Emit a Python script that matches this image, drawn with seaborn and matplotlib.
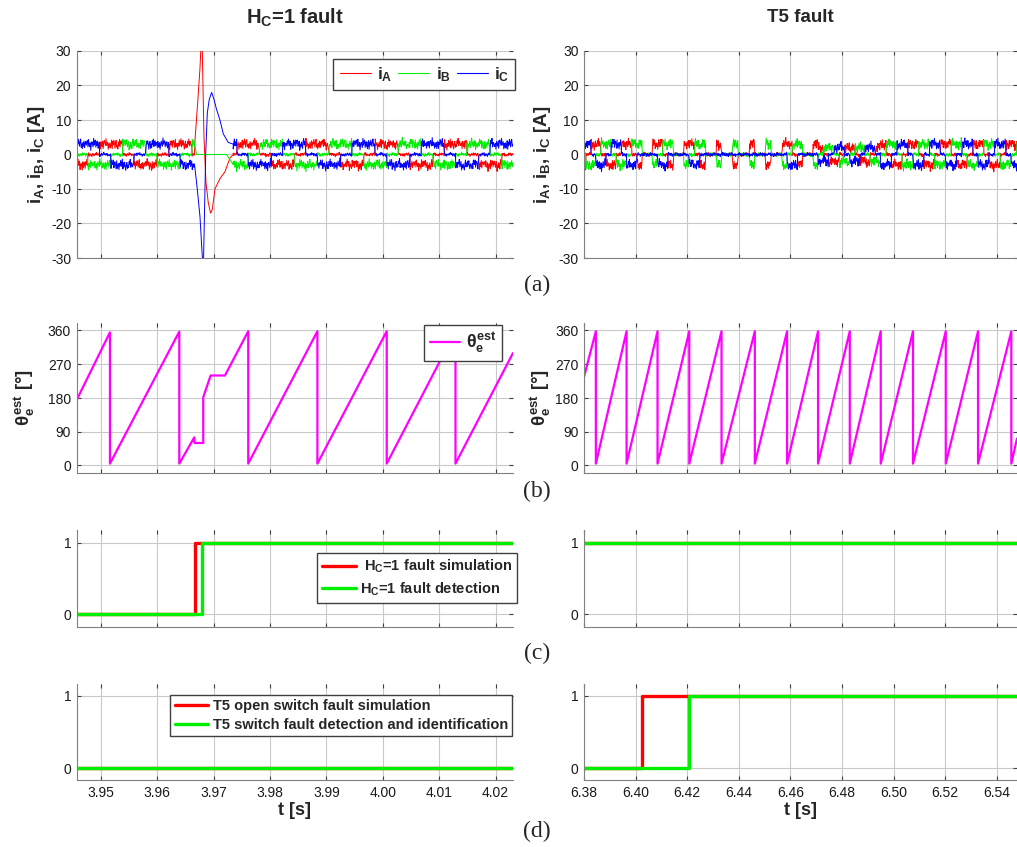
import numpy as np
import pandas as pd
import matplotlib
matplotlib.use("Agg")
import matplotlib.pyplot as plt
from matplotlib.lines import Line2D
import seaborn as sns

# ---------------- time windows and ticks ----------------
t_left_range = (3.9457, 4.0231)
t_right_range = (6.38, 6.5478)
left_xticks = [3.95, 3.96, 3.97, 3.98, 3.99, 4.00, 4.01, 4.02]
right_xticks = [6.38, 6.40, 6.42, 6.44, 6.46, 6.48, 6.50, 6.52, 6.54]
current_yticks = [-30, -20, -10, 0, 10, 20, 30]
theta_yticks = [0, 90, 180, 270, 360]
flag_yticks = [0, 1]

# ---------------- fault events ----------------
hc_fault_time = 3.9666
hc_detect_time = 3.9679
t5_fault_time = 6.4026
t5_detect_time = 6.4207

# ---------------- estimated electrical angle ----------------
theta_left_t = [3.9457, 3.9516, 3.9516, 3.9639, 3.9639, 3.96656, 3.96660, 3.96815,
                3.96815, 3.96946, 3.9720, 3.97613, 3.97613, 3.9884, 3.9884, 4.0007,
                4.0007, 4.0129, 4.0129, 4.0231]
theta_left_deg = [175, 355, 5, 357, 5, 75, 60, 60,
                  182, 240, 240, 358, 5, 358, 5, 358,
                  5, 358, 5, 300]

theta_right_wraps = [6.3846, 6.3965, 6.4085, 6.4208, 6.4333, 6.4462, 6.4587,
                     6.4707, 6.4830, 6.4950, 6.5075, 6.5202, 6.5327, 6.5456]
theta_right_start_deg = 236
theta_right_end_deg = 72
theta_low_deg = 5
theta_high_deg = 358

# ---------------- phase currents (six-step commutation) ----------------
phase_names = ["iA", "iB", "iC"]
sector_pattern = {1: (1, -1, 0), 2: (1, 0, -1), 3: (0, 1, -1),
                  4: (-1, 1, 0), 5: (-1, 0, 1), 6: (0, -1, 1), 0: (0, 0, 0)}
current_amp = 3.0

# H_C = 1 case: commutation instants and active sector before / after the fault
left_pre_starts = [3.9457, 3.9477, 3.94975, 3.9518, 3.95385, 3.9559, 3.95795,
                   3.9600, 3.96205, 3.9641, 3.96615]
left_pre_sectors = [5, 6, 1, 2, 3, 4, 5, 6, 1, 2, 3]
left_post_starts = [3.97347, 3.9741, 3.9761, 3.97815, 3.9802, 3.98225, 3.9843,
                    3.98635, 3.9884, 3.99045, 3.9925, 3.99455, 3.9966, 3.99865,
                    4.0007, 4.00275, 4.0048, 4.00685, 4.0089, 4.01095, 4.0129,
                    4.01495, 4.017, 4.01905, 4.0211]
left_post_sectors = [6, 1, 2, 3, 4, 5, 6, 1, 2, 3, 4, 5, 6, 1, 2, 3, 4, 5, 6, 1,
                     2, 3, 4, 5, 6]

# transient right after the Hall fault
ia_fault_t = [3.9666, 3.96668, 3.96716, 3.96757, 3.96780, 3.96798, 3.96828, 3.96863,
              3.96904, 3.96946, 3.96975, 3.97023, 3.97111, 3.97200, 3.97289, 3.97347]
ia_fault_val = [0, 4, 15, 25, 33, 30, 5, -8, -14, -17, -16, -10, -7, -5, -1, 0]
ib_fault_t = [3.9666, 3.96698, 3.97230, 3.97347]
ib_fault_val = [3, 0, 0, -3]
ic_fault_t = [3.9666, 3.96668, 3.96709, 3.96757, 3.96792, 3.96816, 3.96834, 3.96858,
              3.96887, 3.96922, 3.96964, 3.97005, 3.97052, 3.97111, 3.97170, 3.97258,
              3.97347]
ic_fault_val = [-3, -4, -10, -18, -28, -34, -20, 0, 12, 16, 18, 16, 13, 10, 6, 3.5, 3]

# T5 case: conduction behaviour for each electrical period (first one is partial)
right_period_modes = ["normal", "normal", "open_c", "open_c", "open_c", "ab_only",
                      "ab_only", "open_c", "weak", "weak", "normal", "normal",
                      "normal", "normal", "normal"]

# measured current ripple (A)
ripple_fast = [0.6, -0.9, 1.2, 0.1, -0.4, 0.9, -1.3, 0.3, 0.8, -0.2, -1.0, 1.4, -0.6,
               0.2, 0.7, -1.1, 0.5, -0.3, 1.0, -0.8, 0.0, 1.1, -1.4, 0.4, -0.5, 0.9,
               -0.1, -1.2, 0.6, 1.3, -0.7, 0.2, -0.9, 0.8, -0.3, 1.2, -1.0, 0.3, 0.5,
               -0.6, 0.1]
ripple_slow = [0.3, 0.5, 0.2, -0.1, -0.4, -0.5, -0.2, 0.1, 0.4, 0.6, 0.3, 0.0, -0.3,
               -0.6, -0.4, -0.1, 0.2, 0.5, 0.4, 0.1, -0.2, -0.5, -0.3, 0.0, 0.3, 0.6,
               0.2, -0.1, -0.4, -0.6, -0.3, 0.1, 0.4, 0.3, 0.0, -0.2, -0.5, -0.2, 0.2,
               0.5, 0.6, 0.2, -0.2, -0.4, -0.3, 0.0, 0.3, 0.5, 0.1, -0.3, -0.5, -0.1, 0.2]


def ripple(k, p):
    return (ripple_fast[(k + 11 * p) % len(ripple_fast)]
            + ripple_slow[(k // 2 + 19 * p) % len(ripple_slow)])


def six_step_currents(t_grid, starts, sectors, amps, k0=0):
    idx = np.searchsorted(starts, t_grid, side="right") - 1
    idx = np.clip(idx, 0, len(starts) - 1)
    out = np.zeros((3, len(t_grid)))
    for j in range(len(t_grid)):
        lv = sector_pattern[sectors[idx[j]]]
        for p in range(3):
            n = ripple(j + k0, p)
            out[p, j] = amps[idx[j]] * lv[p] + n if lv[p] != 0 else 0.35 * n
    return out


# ---- H_C fault window ----
dt_left = 1.0e-4
t_pre = np.arange(t_left_range[0], hc_fault_time, dt_left)
t_post = np.arange(left_post_starts[0], t_left_range[1] + 1e-9, dt_left)
i_pre = six_step_currents(t_pre, left_pre_starts, left_pre_sectors,
                          [current_amp] * len(left_pre_starts))
i_post = six_step_currents(t_post, left_post_starts, left_post_sectors,
                           [current_amp] * len(left_post_starts), k0=len(t_pre))
fault_t = [ia_fault_t, ib_fault_t, ic_fault_t]
fault_v = [ia_fault_val, ib_fault_val, ic_fault_val]
rows = []
for p, name in enumerate(phase_names):
    tt = np.concatenate([t_pre, fault_t[p], t_post])
    vv = np.concatenate([i_pre[p], fault_v[p], i_post[p]])
    rows.append(pd.DataFrame({"t": tt, "i": vv, "phase": name}))
cur_left = pd.concat(rows, ignore_index=True)

# ---- T5 fault window ----
wraps = [2 * theta_right_wraps[0] - theta_right_wraps[1]] + theta_right_wraps
seg_starts, seg_sectors, seg_amps = [], [], []
for i, w in enumerate(wraps):
    per = (wraps[i + 1] - w) if i + 1 < len(wraps) else (w - wraps[i - 1])
    mode = right_period_modes[i]
    for k, sec in enumerate([2, 3, 4, 5, 6, 1]):
        s, amp = sec, current_amp
        if mode == "open_c" and sec in (5, 6):
            s = 0
        elif mode == "ab_only" and sec not in (1, 4):
            s = 0
        elif mode == "weak":
            amp = 2.0
        seg_starts.append(w + k * per / 6)
        seg_sectors.append(s)
        seg_amps.append(amp)
dt_right = 2.0e-4
t_r = np.arange(t_right_range[0], t_right_range[1] + 1e-9, dt_right)
i_r = six_step_currents(t_r, seg_starts, seg_sectors, seg_amps, k0=7)
cur_right = pd.concat([pd.DataFrame({"t": t_r, "i": i_r[p], "phase": n})
                       for p, n in enumerate(phase_names)], ignore_index=True)

# angle vertices on the T5 window
th_r_t = [t_right_range[0]]
th_r_v = [theta_right_start_deg]
for w in theta_right_wraps:
    th_r_t += [w, w]
    th_r_v += [theta_high_deg, theta_low_deg]
th_r_t.append(t_right_range[1])
th_r_v.append(theta_right_end_deg)

# fault flags
xl0, xl1 = t_left_range
xr0, xr1 = t_right_range
hc_sim = ([xl0, hc_fault_time, hc_fault_time, xl1], [0, 0, 1, 1])
hc_det = ([xl0, hc_detect_time, hc_detect_time, xl1], [0, 0, 1, 1])
hc_sim_r = ([xr0, xr1], [1, 1])
hc_det_r = ([xr0, xr1], [1, 1])
t5_sim_l = ([xl0, xl1], [0, 0])
t5_det_l = ([xl0, xl1], [0, 0])
t5_sim = ([xr0, t5_fault_time, t5_fault_time, xr1], [0, 0, 1, 1])
t5_det = ([xr0, t5_detect_time, t5_detect_time, xr1], [0, 0, 1, 1])

# ---------------- styling ----------------
sns.set_theme(style="whitegrid")
plt.rcParams.update({
    "font.family": ["Liberation Sans", "DejaVu Sans"],
    "mathtext.fontset": "custom",
    "mathtext.rm": "Liberation Sans:bold",
    "mathtext.it": "Liberation Sans:bold",
    "mathtext.bf": "Liberation Sans:bold",
    "axes.unicode_minus": False,
    "grid.color": "#c9c9c9",
    "grid.linewidth": 0.8,
    "axes.edgecolor": "#808080",
    "axes.linewidth": 0.8,
})

RED, GREEN, BLUE, MAGENTA = "#ff0000", "#00ee00", "#0000ff", "#ff00ff"
palette = {"iA": RED, "iB": GREEN, "iC": BLUE}

fig = plt.figure(figsize=(10.17, 8.47), dpi=100)
W, H = 1017.0, 847.0
col_x = [(76.7 / W, 436.3 / W), (584 / W, 433 / W)]
rows_y = [(51, 258), (323, 473), (530, 627), (684, 780)]


def make_ax(r, c):
    top, bot = rows_y[r]
    x0, w = col_x[c]
    return fig.add_axes([x0, 1 - bot / H, w, (bot - top) / H])


def style(ax, xlim, xticks, ylim, yticks, show_x):
    ax.set_facecolor("white")
    ax.set_xlim(*xlim)
    ax.set_ylim(*ylim)
    ax.set_xticks(xticks)
    ax.set_yticks(yticks)
    ax.grid(True, color="#c9c9c9", linewidth=0.8)
    for s in ("top", "right"):
        ax.spines[s].set_visible(False)
    for s in ("left", "bottom"):
        ax.spines[s].set_color("#808080")
    ax.tick_params(axis="both", direction="in", length=3, width=0.8, color="#404040",
                   top=True, right=True, bottom=True, left=True,
                   labelsize=10, labelcolor="#1a1a1a", pad=4)
    ax.tick_params(axis="x", labelbottom=show_x)
    if show_x:
        ax.xaxis.set_major_formatter(matplotlib.ticker.FormatStrFormatter("%.2f"))
        ax.set_xlabel("t [s]", fontsize=13, fontweight="bold", labelpad=2)
    else:
        ax.set_xlabel("")
    ax.set_ylabel("")


legend_kw = dict(frameon=True, fancybox=False, framealpha=1, edgecolor="#404040",
                 borderaxespad=0)

for c, (xlim, xticks, cur) in enumerate([(t_left_range, left_xticks, cur_left),
                                        (t_right_range, right_xticks, cur_right)]):
    # (a) phase currents
    ax = make_ax(0, c)
    sns.lineplot(data=cur, x="t", y="i", hue="phase", hue_order=phase_names,
                 palette=palette, estimator=None, sort=False, linewidth=0.7,
                 legend=False, ax=ax)
    style(ax, xlim, xticks, (-30, 30), current_yticks, False)
    ax.set_ylabel(r"$i_A$, $i_B$, $i_C$ [A]", fontsize=13.5, fontweight="bold")
    ax.yaxis.set_label_coords(-0.068 if c == 0 else -0.0716, 0.5)
    if c == 0:
        handles = [Line2D([], [], color=col, lw=0.8) for col in (RED, GREEN, BLUE)]
        ax.legend(handles, [r"$i_A$", r"$i_B$", r"$i_C$"], loc="upper right",
                  bbox_to_anchor=(1.005, 0.961), ncol=3, prop={"size": 12.5},
                  handlelength=1.8, handletextpad=0.35, columnspacing=0.35,
                  borderpad=0.35, **legend_kw)

    # (b) estimated angle
    ax = make_ax(1, c)
    th_t, th_v = (theta_left_t, theta_left_deg) if c == 0 else (th_r_t, th_r_v)
    sns.lineplot(x=th_t, y=th_v, color=MAGENTA, linewidth=1.6, estimator=None,
                 sort=False, ax=ax)
    style(ax, xlim, xticks, (-20, 380), theta_yticks, False)
    ax.set_ylabel(r"$\theta_e^{est}$ [°]", fontsize=13.5, fontweight="bold")
    ax.yaxis.set_label_coords(-0.091 if c == 0 else -0.0716, 0.5)
    if c == 0:
        ax.legend([Line2D([], [], color=MAGENTA, lw=1.6)], [r"$\theta_e^{est}$"],
                  loc="upper right", bbox_to_anchor=(0.975, 0.987),
                  prop={"size": 13}, handlelength=1.7, handletextpad=0.3,
                  borderpad=0.3, **legend_kw)

    # (c) Hall fault flags
    ax = make_ax(2, c)
    sim, det = (hc_sim, hc_det) if c == 0 else (hc_sim_r, hc_det_r)
    sns.lineplot(x=sim[0], y=sim[1], color=RED, linewidth=2.4, estimator=None,
                 sort=False, ax=ax)
    sns.lineplot(x=det[0], y=det[1], color=GREEN, linewidth=2.4, estimator=None,
                 sort=False, ax=ax)
    style(ax, xlim, xticks, (-0.18, 1.18), flag_yticks, False)
    if c == 0:
        ax.legend([Line2D([], [], color=RED, lw=2.4), Line2D([], [], color=GREEN, lw=2.4)],
                  [r" $H_C$=1 fault simulation", r"$H_C$=1 fault detection"],
                  loc="upper right", bbox_to_anchor=(1.01, 0.763),
                  prop={"size": 10.5, "weight": "bold"}, handlelength=2.3,
                  handletextpad=0.3, borderpad=0.35, labelspacing=0.35, **legend_kw)

    # (d) T5 switch fault flags
    ax = make_ax(3, c)
    sim, det = (t5_sim_l, t5_det_l) if c == 0 else (t5_sim, t5_det)
    sns.lineplot(x=sim[0], y=sim[1], color=RED, linewidth=2.4, estimator=None,
                 sort=False, ax=ax)
    sns.lineplot(x=det[0], y=det[1], color=GREEN, linewidth=2.4, estimator=None,
                 sort=False, ax=ax)
    style(ax, xlim, xticks, (-0.16, 1.16), flag_yticks, True)
    if c == 0:
        ax.legend([Line2D([], [], color=RED, lw=2.4), Line2D([], [], color=GREEN, lw=2.4)],
                  ["T5 open switch fault simulation",
                   "T5 switch fault detection and identification"],
                  loc="upper right", bbox_to_anchor=(0.998, 0.885),
                  prop={"size": 10.5, "weight": "bold"}, handlelength=2.3,
                  handletextpad=0.3, borderpad=0.3, labelspacing=0.3, **legend_kw)

# column titles and panel tags
fig.text(295 / W, 1 - 18 / H, r"$H_C$=1 fault", ha="center", va="center",
         fontsize=14.5, fontweight="bold")
fig.text(800 / W, 1 - 18 / H, "T5 fault", ha="center", va="center",
         fontsize=13.5, fontweight="bold")
for tag, y in (("(a)", 285), ("(b)", 491), ("(c)", 653), ("(d)", 831)):
    fig.text(537 / W, 1 - y / H, tag, ha="center", va="center", fontsize=17,
             family="Liberation Serif")

fig.savefig("out.png", dpi=100)
